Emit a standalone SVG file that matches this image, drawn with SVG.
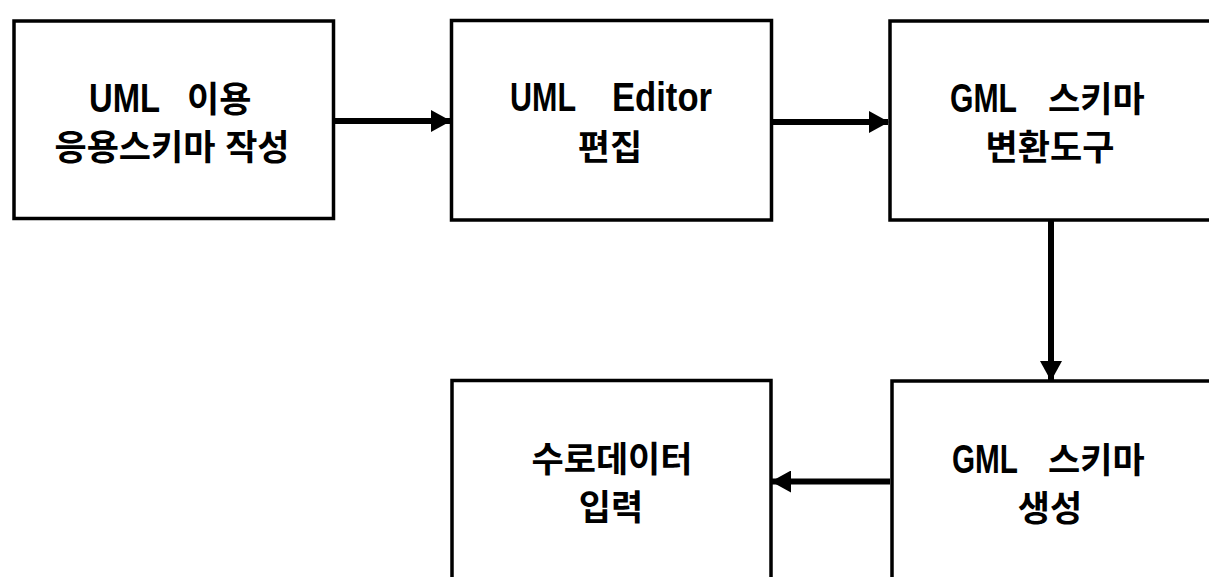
<svg xmlns="http://www.w3.org/2000/svg" width="1209" height="577" viewBox="0 0 1209 577">
<style>
.box{fill:#fff;stroke:#000;stroke-width:3.5}
.t{font-family:"Liberation Sans","Noto Sans CJK KR",sans-serif;font-weight:700;font-size:35px;fill:#000}
.lat{font-size:41px}
.c{text-anchor:middle}
.conn{stroke:#000;stroke-width:6;fill:none}
</style>
<defs>
<marker id="ah" markerUnits="userSpaceOnUse" markerWidth="20" markerHeight="22" refX="19" refY="11" orient="auto">
<path d="M0,0 L20,11 L0,22 Z" fill="#000"/>
</marker>
</defs>
<rect width="1209" height="577" fill="#fff"/>
<g id="connectors">
<line class="conn" x1="334" y1="121" x2="450" y2="121" marker-end="url(#ah)"/>
<line class="conn" x1="772" y1="122" x2="888" y2="122" marker-end="url(#ah)"/>
<line class="conn" x1="1051" y1="221" x2="1051" y2="380" marker-end="url(#ah)"/>
<line class="conn" x1="890" y1="481.5" x2="772" y2="481.5" marker-end="url(#ah)"/>
</g>
<g id="node1">
<rect class="box" x="14" y="21" width="319.5" height="197.5"/>
<text class="t" y="112"><tspan class="lat" x="89" textLength="71" lengthAdjust="spacingAndGlyphs">UML</tspan> <tspan x="187">이용</tspan></text>
<text class="t c" x="172" y="160">응용스키마 작성</text>
</g>
<g id="node2">
<rect class="box" x="451.5" y="20.5" width="320" height="199.5"/>
<text class="t" y="111"><tspan class="lat" x="510" textLength="66" lengthAdjust="spacingAndGlyphs">UML</tspan> <tspan class="lat" x="612" textLength="100" lengthAdjust="spacingAndGlyphs">Editor</tspan></text>
<text class="t c" x="610" y="160">편집</text>
</g>
<g id="node3">
<rect class="box" x="890" y="21" width="322" height="199"/>
<text class="t" y="112"><tspan class="lat" x="950" textLength="67" lengthAdjust="spacingAndGlyphs">GML</tspan> <tspan x="1048">스키마</tspan></text>
<text class="t c" x="1050" y="160">변환도구</text>
</g>
<g id="node4">
<rect class="box" x="892" y="381" width="320" height="200"/>
<text class="t" y="473"><tspan class="lat" x="952" textLength="66" lengthAdjust="spacingAndGlyphs">GML</tspan> <tspan x="1048">스키마</tspan></text>
<text class="t c" x="1050" y="521">생성</text>
</g>
<g id="node5">
<rect class="box" x="452" y="380.5" width="319" height="200"/>
<text class="t c" x="612" y="472">수로데이터</text>
<text class="t c" x="611" y="520">입력</text>
</g>
</svg>
